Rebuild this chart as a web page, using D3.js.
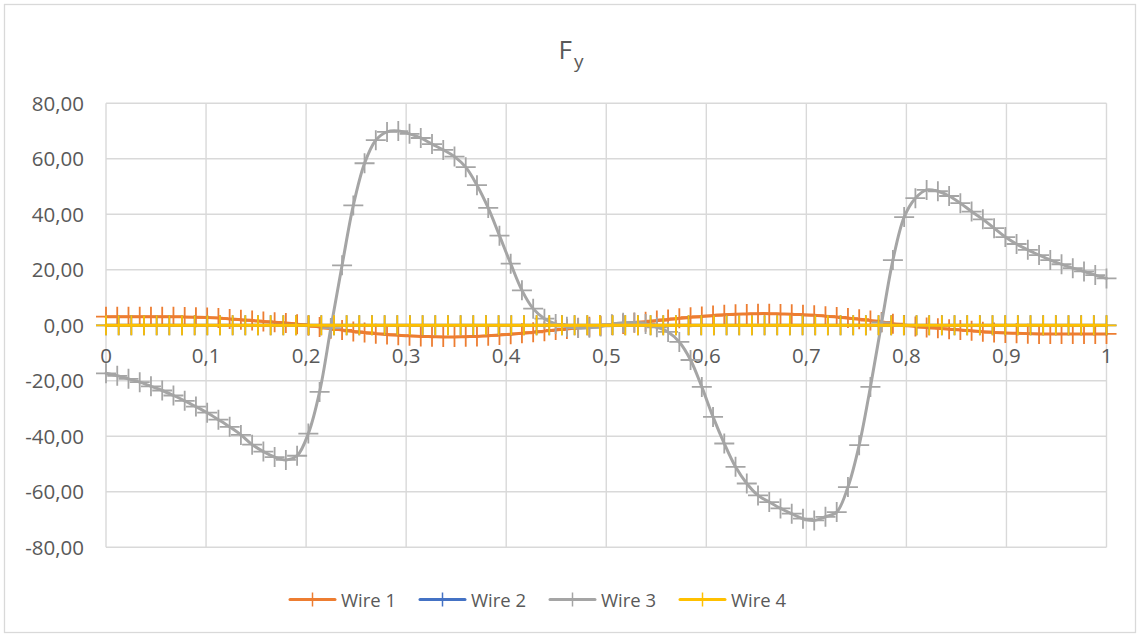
<!DOCTYPE html>
<html><head><meta charset="utf-8">
<script src="https://cdn.jsdelivr.net/npm/d3@7"></script>
<style>
body{margin:0;background:#fff}
text{font-family:"Open Sans",sans-serif;fill:#595959}
</style>
</head><body>
<svg id="c" width="1140" height="637"></svg>
<script>
// ---- data ----
const seriesNames = ["Wire 1", "Wire 2", "Wire 3", "Wire 4"];
const seriesColors = ["#ED7D31", "#4472C4", "#A5A5A5", "#FFC000"];
// Wire 1 and Wire 3: 90 samples evenly spread over 0..1
const wire1 = [3.1,3.1,3.1,3.1,3.1,3.1,3.1,3.0,2.9,2.8,
  2.6,2.3,2.0,1.7,1.4,1.1,0.8,0.4,-0.1,-0.6,
  -1.2,-1.7,-2.2,-2.6,-3.0,-3.3,-3.6,-3.8,-4.0,-4.1,
  -4.2,-4.2,-4.1,-4.0,-3.8,-3.5,-3.2,-2.9,-2.5,-2.1,
  -1.7,-1.3,-0.9,-0.5,-0.2,0.2,0.5,0.9,1.3,1.7,
  2.1,2.5,2.9,3.2,3.5,3.8,4.0,4.1,4.2,4.2,
  4.1,4.0,3.8,3.6,3.3,3.0,2.6,2.2,1.7,1.2,
  0.6,0.1,-0.4,-0.8,-1.1,-1.4,-1.7,-2.0,-2.3,-2.6,
  -2.8,-2.9,-3.0,-3.1,-3.1,-3.1,-3.1,-3.1,-3.1,-3.1];
const wire3 = [-17.3,-18.2,-19.3,-20.5,-22.0,-23.5,-25.3,-27.2,-29.3,-31.5,
  -34.0,-36.6,-39.5,-43.0,-45.5,-47.5,-48.5,-47.0,-39.0,-24.0,
  -1.0,21.6,43.2,58.4,66.7,69.7,70.0,69.0,67.5,65.3,
  63.2,60.8,57.0,50.5,42.3,32.3,22.2,12.6,6.0,2.4,
  0.5,-0.5,-1.0,-0.9,-0.4,0.4,0.9,1.0,0.5,-0.7,
  -2.4,-6.0,-12.5,-22.2,-33.0,-42.6,-51.0,-57.0,-61.3,-63.7,
  -66.0,-67.9,-69.7,-70.3,-69.0,-67.3,-58.3,-43.2,-22.2,1.0,
  23.5,39.0,45.8,48.8,48.3,46.6,44.0,41.0,38.2,35.0,
  31.8,29.3,27.2,25.3,23.5,22.0,20.6,19.4,18.1,16.9];
// Wire 2 and Wire 4: 80 samples evenly spread over 0..1
const wire2 = [0,0,0,0,0,0,0,0,0,0, 0,0,0,0,0,0,0,0,0,0,
  0,0,0,0,0,0,0,0,0,0, 0,0,0,0,0,0,0,0,0,0,
  0,0,0,0,0,0,0,0,0,0, 0,0,0,0,0,0,0,0,0,0,
  0,0,0,0,0,0,0,0,0,0, 0,0,0,0,0,0,0,0,0,0];
const wire4 = [0,0,0,0,0,0,0,0,0,0, 0,0,0,0,0,0,0,0,0,0,
  0,0,0,0,0,0,0,0,0,0, 0,0,0,0,0,0,0,0,0,0,
  0,0,0,0,0,0,0,0,0,0, 0,0,0,0,0,0,0,0,0,0,
  0,0,0,0,0,0,0,0,0,0, 0,0,0,0,0,0,0,0,0,0];
const xTickValues = [0,0.1,0.2,0.3,0.4,0.5,0.6,0.7,0.8,0.9,1];
const xTickLabels = ["0","0,1","0,2","0,3","0,4","0,5","0,6","0,7","0,8","0,9","1"];
const yTickValues = [80,60,40,20,0,-20,-40,-60,-80];
const yTickLabels = ["80,00","60,00","40,00","20,00","0,00","-20,00","-40,00","-60,00","-80,00"];

// ---- chart ----
const svg = d3.select("#c");
const W = 1140, H = 637;
const plot = {left:106, right:1106.5, top:103.3, bottom:547.3};
const x = d3.scaleLinear().domain([0,1]).range([plot.left, plot.right]);
const y = d3.scaleLinear().domain([-80,80]).range([plot.bottom, plot.top]);

svg.append("rect").attr("x",0).attr("y",0).attr("width",W).attr("height",H).attr("fill","#fff");
svg.append("rect").attr("x",4.5).attr("y",4.5).attr("width",W-9).attr("height",H-9)
  .attr("fill","none").attr("stroke","#d9d9d9").attr("stroke-width",1.3);

// gridlines
const grid = svg.append("g");
grid.selectAll("line.h").data(yTickValues).join("line")
  .attr("x1",plot.left).attr("x2",plot.right)
  .attr("y1",d=>y(d)).attr("y2",d=>y(d))
  .attr("stroke","#d9d9d9").attr("stroke-width",1.4);
grid.selectAll("line.v").data(xTickValues).join("line")
  .attr("y1",plot.top).attr("y2",plot.bottom)
  .attr("x1",d=>x(d)).attr("x2",d=>x(d))
  .attr("stroke","#d9d9d9").attr("stroke-width",1.4);

// y tick labels
svg.append("g").selectAll("text").data(yTickValues).join("text")
  .attr("x",84).attr("y",d=>y(d)).attr("dy","0.36em")
  .attr("text-anchor","end").attr("font-size",20.5)
  .text((d,i)=>yTickLabels[i]);

// x tick labels (along zero line)
svg.append("g").selectAll("text").data(xTickValues).join("text")
  .attr("x",d=>x(d)).attr("y",y(0)+38).attr("text-anchor","middle").attr("font-size",20.5)
  .text((d,i)=>xTickLabels[i]);

// title
svg.append("text").attr("x",558.5).attr("y",59).attr("font-size",26).text("F");
svg.append("text").attr("x",574).attr("y",68).attr("font-size",19).text("y");

// series
const allSeries = [wire1, wire2, wire3, wire4];
const line = d3.line().x(d=>x(d.x)).y(d=>y(d.y)).curve(d3.curveCatmullRom.alpha(0.5));
const plus = "M-10,0H10M0,-10V10";
allSeries.forEach((vals, si) => {
  const n = vals.length;
  const pts = vals.map((v,i)=>({x:i/(n-1), y:v}));
  const g = svg.append("g");
  g.append("path").datum(pts).attr("d",line).attr("fill","none")
    .attr("stroke",seriesColors[si]).attr("stroke-width",3).attr("stroke-linejoin","round").attr("stroke-linecap","round");
  g.selectAll("path.m").data(pts).join("path").attr("class","m")
    .attr("transform",d=>`translate(${x(d.x)},${y(d.y)})`)
    .attr("d",plus).attr("stroke",seriesColors[si]).attr("stroke-width",1.8).attr("fill","none");
});

// legend
const leg = svg.append("g");
seriesNames.forEach((name, i) => {
  const lx = 290 + i*130, ly = 599.5;
  leg.append("line").attr("x1",lx).attr("x2",lx+45).attr("y1",ly).attr("y2",ly)
    .attr("stroke",seriesColors[i]).attr("stroke-width",3).attr("stroke-linecap","round");
  leg.append("path").attr("transform",`translate(${lx+22.5},${ly})`)
    .attr("d","M0,-7V7").attr("stroke",seriesColors[i]).attr("stroke-width",1.5);
  leg.append("text").attr("x",lx+51).attr("y",ly+7).attr("font-size",18.5).text(name);
});
</script>
</body></html>
